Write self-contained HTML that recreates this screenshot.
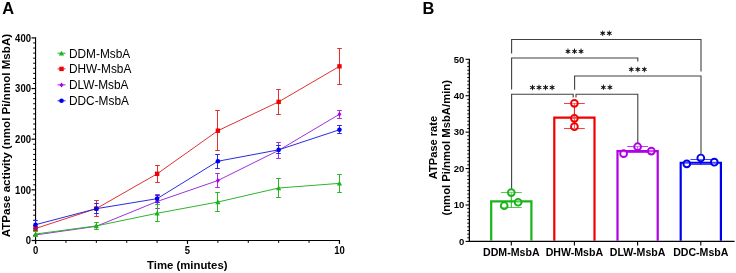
<!DOCTYPE html>
<html><head><meta charset="utf-8"><style>
html,body{margin:0;padding:0;background:#fff;}
body{width:736px;height:273px;overflow:hidden;font-family:"Liberation Sans", sans-serif;}
svg{display:block;will-change:transform;}
</style></head><body>
<svg width="736" height="273" viewBox="0 0 736 273" font-family='"Liberation Sans", sans-serif'><text x="2.2" y="14" font-size="16.4" font-weight="bold" fill="#000">A</text>
<line x1="35.55" y1="37.30000000000003" x2="35.55" y2="243.9" stroke="#000" stroke-width="1.15"/>
<line x1="31.549999999999997" y1="240.5" x2="35.55" y2="240.5" stroke="#000" stroke-width="1.2"/>
<text x="30.949999999999996" y="244.4" font-size="10" font-weight="bold" text-anchor="end" textLength="5.28" lengthAdjust="spacingAndGlyphs" fill="#000">0</text>
<line x1="33.15" y1="235.435" x2="35.55" y2="235.435" stroke="#000" stroke-width="1"/>
<line x1="33.15" y1="230.37" x2="35.55" y2="230.37" stroke="#000" stroke-width="1"/>
<line x1="33.15" y1="225.305" x2="35.55" y2="225.305" stroke="#000" stroke-width="1"/>
<line x1="33.15" y1="220.24" x2="35.55" y2="220.24" stroke="#000" stroke-width="1"/>
<line x1="33.15" y1="215.175" x2="35.55" y2="215.175" stroke="#000" stroke-width="1"/>
<line x1="33.15" y1="210.11" x2="35.55" y2="210.11" stroke="#000" stroke-width="1"/>
<line x1="33.15" y1="205.04500000000002" x2="35.55" y2="205.04500000000002" stroke="#000" stroke-width="1"/>
<line x1="33.15" y1="199.98000000000002" x2="35.55" y2="199.98000000000002" stroke="#000" stroke-width="1"/>
<line x1="33.15" y1="194.91500000000002" x2="35.55" y2="194.91500000000002" stroke="#000" stroke-width="1"/>
<line x1="31.549999999999997" y1="189.85000000000002" x2="35.55" y2="189.85000000000002" stroke="#000" stroke-width="1.2"/>
<text x="30.949999999999996" y="193.75000000000003" font-size="10" font-weight="bold" text-anchor="end" textLength="15.85" lengthAdjust="spacingAndGlyphs" fill="#000">100</text>
<line x1="33.15" y1="184.785" x2="35.55" y2="184.785" stroke="#000" stroke-width="1"/>
<line x1="33.15" y1="179.72" x2="35.55" y2="179.72" stroke="#000" stroke-width="1"/>
<line x1="33.15" y1="174.655" x2="35.55" y2="174.655" stroke="#000" stroke-width="1"/>
<line x1="33.15" y1="169.59" x2="35.55" y2="169.59" stroke="#000" stroke-width="1"/>
<line x1="33.15" y1="164.525" x2="35.55" y2="164.525" stroke="#000" stroke-width="1"/>
<line x1="33.15" y1="159.46" x2="35.55" y2="159.46" stroke="#000" stroke-width="1"/>
<line x1="33.15" y1="154.395" x2="35.55" y2="154.395" stroke="#000" stroke-width="1"/>
<line x1="33.15" y1="149.33" x2="35.55" y2="149.33" stroke="#000" stroke-width="1"/>
<line x1="33.15" y1="144.26500000000001" x2="35.55" y2="144.26500000000001" stroke="#000" stroke-width="1"/>
<line x1="31.549999999999997" y1="139.20000000000002" x2="35.55" y2="139.20000000000002" stroke="#000" stroke-width="1.2"/>
<text x="30.949999999999996" y="143.10000000000002" font-size="10" font-weight="bold" text-anchor="end" textLength="15.85" lengthAdjust="spacingAndGlyphs" fill="#000">200</text>
<line x1="33.15" y1="134.135" x2="35.55" y2="134.135" stroke="#000" stroke-width="1"/>
<line x1="33.15" y1="129.07" x2="35.55" y2="129.07" stroke="#000" stroke-width="1"/>
<line x1="33.15" y1="124.00500000000001" x2="35.55" y2="124.00500000000001" stroke="#000" stroke-width="1"/>
<line x1="33.15" y1="118.94000000000001" x2="35.55" y2="118.94000000000001" stroke="#000" stroke-width="1"/>
<line x1="33.15" y1="113.87500000000001" x2="35.55" y2="113.87500000000001" stroke="#000" stroke-width="1"/>
<line x1="33.15" y1="108.81" x2="35.55" y2="108.81" stroke="#000" stroke-width="1"/>
<line x1="33.15" y1="103.745" x2="35.55" y2="103.745" stroke="#000" stroke-width="1"/>
<line x1="33.15" y1="98.68" x2="35.55" y2="98.68" stroke="#000" stroke-width="1"/>
<line x1="33.15" y1="93.61500000000001" x2="35.55" y2="93.61500000000001" stroke="#000" stroke-width="1"/>
<line x1="31.549999999999997" y1="88.55000000000001" x2="35.55" y2="88.55000000000001" stroke="#000" stroke-width="1.2"/>
<text x="30.949999999999996" y="92.45000000000002" font-size="10" font-weight="bold" text-anchor="end" textLength="15.85" lengthAdjust="spacingAndGlyphs" fill="#000">300</text>
<line x1="33.15" y1="83.48500000000001" x2="35.55" y2="83.48500000000001" stroke="#000" stroke-width="1"/>
<line x1="33.15" y1="78.42000000000002" x2="35.55" y2="78.42000000000002" stroke="#000" stroke-width="1"/>
<line x1="33.15" y1="73.35500000000002" x2="35.55" y2="73.35500000000002" stroke="#000" stroke-width="1"/>
<line x1="33.15" y1="68.29000000000002" x2="35.55" y2="68.29000000000002" stroke="#000" stroke-width="1"/>
<line x1="33.15" y1="63.22500000000002" x2="35.55" y2="63.22500000000002" stroke="#000" stroke-width="1"/>
<line x1="33.15" y1="58.160000000000025" x2="35.55" y2="58.160000000000025" stroke="#000" stroke-width="1"/>
<line x1="33.15" y1="53.09500000000003" x2="35.55" y2="53.09500000000003" stroke="#000" stroke-width="1"/>
<line x1="33.15" y1="48.03000000000003" x2="35.55" y2="48.03000000000003" stroke="#000" stroke-width="1"/>
<line x1="33.15" y1="42.96500000000003" x2="35.55" y2="42.96500000000003" stroke="#000" stroke-width="1"/>
<line x1="31.549999999999997" y1="37.900000000000034" x2="35.55" y2="37.900000000000034" stroke="#000" stroke-width="1.2"/>
<text x="30.949999999999996" y="41.80000000000003" font-size="10" font-weight="bold" text-anchor="end" textLength="15.85" lengthAdjust="spacingAndGlyphs" fill="#000">400</text>
<line x1="34.949999999999996" y1="240.5" x2="340.05" y2="240.5" stroke="#000" stroke-width="1.2"/>
<line x1="35.55" y1="240.5" x2="35.55" y2="243.9" stroke="#000" stroke-width="1.2"/>
<text x="35.55" y="253.6" font-size="10" font-weight="bold" text-anchor="middle" textLength="5.28" lengthAdjust="spacingAndGlyphs" fill="#000">0</text>
<line x1="65.94" y1="240.5" x2="65.94" y2="242.9" stroke="#000" stroke-width="1"/>
<line x1="96.32999999999998" y1="240.5" x2="96.32999999999998" y2="242.9" stroke="#000" stroke-width="1"/>
<line x1="126.71999999999998" y1="240.5" x2="126.71999999999998" y2="242.9" stroke="#000" stroke-width="1"/>
<line x1="157.10999999999999" y1="240.5" x2="157.10999999999999" y2="242.9" stroke="#000" stroke-width="1"/>
<line x1="187.5" y1="240.5" x2="187.5" y2="243.9" stroke="#000" stroke-width="1.2"/>
<text x="187.5" y="253.6" font-size="10" font-weight="bold" text-anchor="middle" textLength="5.28" lengthAdjust="spacingAndGlyphs" fill="#000">5</text>
<line x1="217.89" y1="240.5" x2="217.89" y2="242.9" stroke="#000" stroke-width="1"/>
<line x1="248.27999999999997" y1="240.5" x2="248.27999999999997" y2="242.9" stroke="#000" stroke-width="1"/>
<line x1="278.66999999999996" y1="240.5" x2="278.66999999999996" y2="242.9" stroke="#000" stroke-width="1"/>
<line x1="309.06" y1="240.5" x2="309.06" y2="242.9" stroke="#000" stroke-width="1"/>
<line x1="339.45" y1="240.5" x2="339.45" y2="243.9" stroke="#000" stroke-width="1.2"/>
<text x="339.45" y="253.6" font-size="10" font-weight="bold" text-anchor="middle" textLength="10.56" lengthAdjust="spacingAndGlyphs" fill="#000">10</text>
<text x="187.3" y="268.6" font-size="11.35" font-weight="bold" text-anchor="middle" fill="#000">Time (minutes)</text>
<text transform="translate(10.3,135.55) rotate(-90)" x="0" y="0" font-size="11.6" font-weight="bold" text-anchor="middle" fill="#000">ATPase activity (nmol Pi/nmol MsbA)</text>
<polyline points="35.55,234.93 96.33,226.32 157.11,201.50 217.89,180.53 278.67,150.34 339.45,114.28" fill="none" stroke="#a030d8" stroke-width="1"/>
<path d="M157.50,194.50 V208.50 M155.20,194.50 H159.80 M155.20,208.50 H159.80" stroke="#a030d8" stroke-width="1" fill="none"/>
<path d="M217.50,173.50 V187.50 M215.20,173.50 H219.80 M215.20,187.50 H219.80" stroke="#a030d8" stroke-width="1" fill="none"/>
<path d="M278.50,142.50 V158.50 M276.20,142.50 H280.80 M276.20,158.50 H280.80" stroke="#a030d8" stroke-width="1" fill="none"/>
<path d="M339.50,110.50 V118.50 M337.20,110.50 H341.80 M337.20,118.50 H341.80" stroke="#a030d8" stroke-width="1" fill="none"/>
<path d="M35.55,232.43 L37.55,234.93 L35.55,237.43 L33.55,234.93Z" fill="#b000e4"/>
<path d="M96.33,223.82 L98.33,226.32 L96.33,228.82 L94.33,226.32Z" fill="#b000e4"/>
<path d="M157.11,199.00 L159.11,201.50 L157.11,204.00 L155.11,201.50Z" fill="#b000e4"/>
<path d="M217.89,178.03 L219.89,180.53 L217.89,183.03 L215.89,180.53Z" fill="#b000e4"/>
<path d="M278.67,147.84 L280.67,150.34 L278.67,152.84 L276.67,150.34Z" fill="#b000e4"/>
<path d="M339.45,111.78 L341.45,114.28 L339.45,116.78 L337.45,114.28Z" fill="#b000e4"/>
<polyline points="35.55,234.02 96.33,225.91 157.11,213.30 217.89,202.01 278.67,188.03 339.45,183.37" fill="none" stroke="#2cb52c" stroke-width="1"/>
<path d="M35.50,231.50 V236.50 M33.20,231.50 H37.80 M33.20,236.50 H37.80" stroke="#2cb52c" stroke-width="1" fill="none"/>
<path d="M96.50,222.50 V229.50 M94.20,222.50 H98.80 M94.20,229.50 H98.80" stroke="#2cb52c" stroke-width="1" fill="none"/>
<path d="M157.50,204.50 V221.50 M155.20,204.50 H159.80 M155.20,221.50 H159.80" stroke="#2cb52c" stroke-width="1" fill="none"/>
<path d="M217.50,192.50 V211.50 M215.20,192.50 H219.80 M215.20,211.50 H219.80" stroke="#2cb52c" stroke-width="1" fill="none"/>
<path d="M278.50,178.50 V197.50 M276.20,178.50 H280.80 M276.20,197.50 H280.80" stroke="#2cb52c" stroke-width="1" fill="none"/>
<path d="M339.50,174.50 V192.50 M337.20,174.50 H341.80 M337.20,192.50 H341.80" stroke="#2cb52c" stroke-width="1" fill="none"/>
<path d="M35.55,231.52 L38.17,236.27 L32.92,236.27Z" fill="#18b418"/>
<path d="M96.33,223.41 L98.95,228.16 L93.70,228.16Z" fill="#18b418"/>
<path d="M157.11,210.80 L159.73,215.55 L154.48,215.55Z" fill="#18b418"/>
<path d="M217.89,199.51 L220.51,204.26 L215.26,204.26Z" fill="#18b418"/>
<path d="M278.67,185.53 L281.29,190.28 L276.04,190.28Z" fill="#18b418"/>
<path d="M339.45,180.87 L342.07,185.62 L336.82,185.62Z" fill="#18b418"/>
<polyline points="35.55,228.50 96.33,208.59 157.11,173.84 217.89,130.69 278.67,101.87 339.45,66.37" fill="none" stroke="#e03030" stroke-width="1"/>
<path d="M35.50,226.50 V230.50 M33.20,226.50 H37.80 M33.20,230.50 H37.80" stroke="#e03030" stroke-width="1" fill="none"/>
<path d="M96.50,200.50 V216.50 M94.20,200.50 H98.80 M94.20,216.50 H98.80" stroke="#e03030" stroke-width="1" fill="none"/>
<path d="M157.50,165.50 V182.50 M155.20,165.50 H159.80 M155.20,182.50 H159.80" stroke="#e03030" stroke-width="1" fill="none"/>
<path d="M217.50,110.50 V150.50 M215.20,110.50 H219.80 M215.20,150.50 H219.80" stroke="#e03030" stroke-width="1" fill="none"/>
<path d="M278.50,89.50 V114.50 M276.20,89.50 H280.80 M276.20,114.50 H280.80" stroke="#e03030" stroke-width="1" fill="none"/>
<path d="M339.50,48.50 V84.50 M337.20,48.50 H341.80 M337.20,84.50 H341.80" stroke="#e03030" stroke-width="1" fill="none"/>
<rect x="33.35" y="226.30" width="4.40" height="4.40" fill="#f00000"/>
<rect x="94.13" y="206.39" width="4.40" height="4.40" fill="#f00000"/>
<rect x="154.91" y="171.64" width="4.40" height="4.40" fill="#f00000"/>
<rect x="215.69" y="128.49" width="4.40" height="4.40" fill="#f00000"/>
<rect x="276.47" y="99.67" width="4.40" height="4.40" fill="#f00000"/>
<rect x="337.25" y="64.17" width="4.40" height="4.40" fill="#f00000"/>
<polyline points="35.55,224.70 96.33,208.69 157.11,198.66 217.89,161.23 278.67,149.84 339.45,129.78" fill="none" stroke="#2a2ae0" stroke-width="1"/>
<path d="M35.50,220.50 V228.50 M33.20,220.50 H37.80 M33.20,228.50 H37.80" stroke="#2a2ae0" stroke-width="1" fill="none"/>
<path d="M96.50,203.50 V213.50 M94.20,203.50 H98.80 M94.20,213.50 H98.80" stroke="#2a2ae0" stroke-width="1" fill="none"/>
<path d="M157.50,195.50 V202.50 M155.20,195.50 H159.80 M155.20,202.50 H159.80" stroke="#2a2ae0" stroke-width="1" fill="none"/>
<path d="M217.50,154.50 V168.50 M215.20,154.50 H219.80 M215.20,168.50 H219.80" stroke="#2a2ae0" stroke-width="1" fill="none"/>
<path d="M278.50,145.50 V153.50 M276.20,145.50 H280.80 M276.20,153.50 H280.80" stroke="#2a2ae0" stroke-width="1" fill="none"/>
<path d="M339.50,125.50 V133.50 M337.20,125.50 H341.80 M337.20,133.50 H341.80" stroke="#2a2ae0" stroke-width="1" fill="none"/>
<circle cx="35.55" cy="224.70" r="2.30" fill="#0000f0"/>
<circle cx="96.33" cy="208.69" r="2.30" fill="#0000f0"/>
<circle cx="157.11" cy="198.66" r="2.30" fill="#0000f0"/>
<circle cx="217.89" cy="161.23" r="2.30" fill="#0000f0"/>
<circle cx="278.67" cy="149.84" r="2.30" fill="#0000f0"/>
<circle cx="339.45" cy="129.78" r="2.30" fill="#0000f0"/>
<line x1="57.5" y1="53.2" x2="65.5" y2="53.2" stroke="#2cb52c" stroke-width="1"/>
<path d="M61.50,50.70 L64.12,55.45 L58.88,55.45Z" fill="#18b418"/>
<text x="69.0" y="57.5" font-size="11.85" fill="#000">DDM-MsbA</text>
<line x1="57.5" y1="68.9" x2="65.5" y2="68.9" stroke="#e03030" stroke-width="1"/>
<rect x="59.30" y="66.70" width="4.40" height="4.40" fill="#f00000"/>
<text x="69.0" y="73.2" font-size="11.85" fill="#000">DHW-MsbA</text>
<line x1="57.5" y1="84.9" x2="65.5" y2="84.9" stroke="#a030d8" stroke-width="1"/>
<path d="M61.50,82.40 L63.50,84.90 L61.50,87.40 L59.50,84.90Z" fill="#b000e4"/>
<text x="69.0" y="89.2" font-size="11.85" fill="#000">DLW-MsbA</text>
<line x1="57.5" y1="100.8" x2="65.5" y2="100.8" stroke="#2a2ae0" stroke-width="1"/>
<circle cx="61.50" cy="100.80" r="2.30" fill="#0000f0"/>
<text x="69.0" y="105.1" font-size="11.85" fill="#000">DDC-MsbA</text>
<text x="422.6" y="14" font-size="16.4" font-weight="bold" fill="#000">B</text>
<line x1="469.35" y1="58.69999999999998" x2="469.35" y2="241.4" stroke="#000" stroke-width="1.25"/>
<line x1="465.55" y1="241.4" x2="469.35" y2="241.4" stroke="#000" stroke-width="1.1"/>
<text x="464.25" y="244.75" font-size="9.5" font-weight="bold" text-anchor="end" fill="#000">0</text>
<line x1="467.15000000000003" y1="237.758" x2="469.35" y2="237.758" stroke="#000" stroke-width="0.9"/>
<line x1="467.15000000000003" y1="234.116" x2="469.35" y2="234.116" stroke="#000" stroke-width="0.9"/>
<line x1="467.15000000000003" y1="230.474" x2="469.35" y2="230.474" stroke="#000" stroke-width="0.9"/>
<line x1="467.15000000000003" y1="226.832" x2="469.35" y2="226.832" stroke="#000" stroke-width="0.9"/>
<line x1="467.15000000000003" y1="223.19" x2="469.35" y2="223.19" stroke="#000" stroke-width="0.9"/>
<line x1="467.15000000000003" y1="219.548" x2="469.35" y2="219.548" stroke="#000" stroke-width="0.9"/>
<line x1="467.15000000000003" y1="215.906" x2="469.35" y2="215.906" stroke="#000" stroke-width="0.9"/>
<line x1="467.15000000000003" y1="212.264" x2="469.35" y2="212.264" stroke="#000" stroke-width="0.9"/>
<line x1="467.15000000000003" y1="208.622" x2="469.35" y2="208.622" stroke="#000" stroke-width="0.9"/>
<line x1="465.55" y1="204.98000000000002" x2="469.35" y2="204.98000000000002" stroke="#000" stroke-width="1.1"/>
<text x="464.25" y="208.33" font-size="9.5" font-weight="bold" text-anchor="end" fill="#000">10</text>
<line x1="467.15000000000003" y1="201.338" x2="469.35" y2="201.338" stroke="#000" stroke-width="0.9"/>
<line x1="467.15000000000003" y1="197.696" x2="469.35" y2="197.696" stroke="#000" stroke-width="0.9"/>
<line x1="467.15000000000003" y1="194.054" x2="469.35" y2="194.054" stroke="#000" stroke-width="0.9"/>
<line x1="467.15000000000003" y1="190.412" x2="469.35" y2="190.412" stroke="#000" stroke-width="0.9"/>
<line x1="467.15000000000003" y1="186.77" x2="469.35" y2="186.77" stroke="#000" stroke-width="0.9"/>
<line x1="467.15000000000003" y1="183.128" x2="469.35" y2="183.128" stroke="#000" stroke-width="0.9"/>
<line x1="467.15000000000003" y1="179.486" x2="469.35" y2="179.486" stroke="#000" stroke-width="0.9"/>
<line x1="467.15000000000003" y1="175.844" x2="469.35" y2="175.844" stroke="#000" stroke-width="0.9"/>
<line x1="467.15000000000003" y1="172.202" x2="469.35" y2="172.202" stroke="#000" stroke-width="0.9"/>
<line x1="465.55" y1="168.56" x2="469.35" y2="168.56" stroke="#000" stroke-width="1.1"/>
<text x="464.25" y="171.91" font-size="9.5" font-weight="bold" text-anchor="end" fill="#000">20</text>
<line x1="467.15000000000003" y1="164.918" x2="469.35" y2="164.918" stroke="#000" stroke-width="0.9"/>
<line x1="467.15000000000003" y1="161.276" x2="469.35" y2="161.276" stroke="#000" stroke-width="0.9"/>
<line x1="467.15000000000003" y1="157.63400000000001" x2="469.35" y2="157.63400000000001" stroke="#000" stroke-width="0.9"/>
<line x1="467.15000000000003" y1="153.992" x2="469.35" y2="153.992" stroke="#000" stroke-width="0.9"/>
<line x1="467.15000000000003" y1="150.35" x2="469.35" y2="150.35" stroke="#000" stroke-width="0.9"/>
<line x1="467.15000000000003" y1="146.708" x2="469.35" y2="146.708" stroke="#000" stroke-width="0.9"/>
<line x1="467.15000000000003" y1="143.066" x2="469.35" y2="143.066" stroke="#000" stroke-width="0.9"/>
<line x1="467.15000000000003" y1="139.42399999999998" x2="469.35" y2="139.42399999999998" stroke="#000" stroke-width="0.9"/>
<line x1="467.15000000000003" y1="135.78199999999998" x2="469.35" y2="135.78199999999998" stroke="#000" stroke-width="0.9"/>
<line x1="465.55" y1="132.14" x2="469.35" y2="132.14" stroke="#000" stroke-width="1.1"/>
<text x="464.25" y="135.48999999999998" font-size="9.5" font-weight="bold" text-anchor="end" fill="#000">30</text>
<line x1="467.15000000000003" y1="128.498" x2="469.35" y2="128.498" stroke="#000" stroke-width="0.9"/>
<line x1="467.15000000000003" y1="124.856" x2="469.35" y2="124.856" stroke="#000" stroke-width="0.9"/>
<line x1="467.15000000000003" y1="121.214" x2="469.35" y2="121.214" stroke="#000" stroke-width="0.9"/>
<line x1="467.15000000000003" y1="117.57199999999999" x2="469.35" y2="117.57199999999999" stroke="#000" stroke-width="0.9"/>
<line x1="467.15000000000003" y1="113.92999999999999" x2="469.35" y2="113.92999999999999" stroke="#000" stroke-width="0.9"/>
<line x1="467.15000000000003" y1="110.28799999999998" x2="469.35" y2="110.28799999999998" stroke="#000" stroke-width="0.9"/>
<line x1="467.15000000000003" y1="106.64599999999999" x2="469.35" y2="106.64599999999999" stroke="#000" stroke-width="0.9"/>
<line x1="467.15000000000003" y1="103.00399999999999" x2="469.35" y2="103.00399999999999" stroke="#000" stroke-width="0.9"/>
<line x1="467.15000000000003" y1="99.362" x2="469.35" y2="99.362" stroke="#000" stroke-width="0.9"/>
<line x1="465.55" y1="95.72" x2="469.35" y2="95.72" stroke="#000" stroke-width="1.1"/>
<text x="464.25" y="99.07" font-size="9.5" font-weight="bold" text-anchor="end" fill="#000">40</text>
<line x1="467.15000000000003" y1="92.078" x2="469.35" y2="92.078" stroke="#000" stroke-width="0.9"/>
<line x1="467.15000000000003" y1="88.43599999999998" x2="469.35" y2="88.43599999999998" stroke="#000" stroke-width="0.9"/>
<line x1="467.15000000000003" y1="84.79399999999998" x2="469.35" y2="84.79399999999998" stroke="#000" stroke-width="0.9"/>
<line x1="467.15000000000003" y1="81.15199999999999" x2="469.35" y2="81.15199999999999" stroke="#000" stroke-width="0.9"/>
<line x1="467.15000000000003" y1="77.50999999999999" x2="469.35" y2="77.50999999999999" stroke="#000" stroke-width="0.9"/>
<line x1="467.15000000000003" y1="73.868" x2="469.35" y2="73.868" stroke="#000" stroke-width="0.9"/>
<line x1="467.15000000000003" y1="70.226" x2="469.35" y2="70.226" stroke="#000" stroke-width="0.9"/>
<line x1="467.15000000000003" y1="66.58399999999997" x2="469.35" y2="66.58399999999997" stroke="#000" stroke-width="0.9"/>
<line x1="467.15000000000003" y1="62.94199999999998" x2="469.35" y2="62.94199999999998" stroke="#000" stroke-width="0.9"/>
<line x1="465.55" y1="59.29999999999998" x2="469.35" y2="59.29999999999998" stroke="#000" stroke-width="1.1"/>
<text x="464.25" y="62.649999999999984" font-size="9.5" font-weight="bold" text-anchor="end" fill="#000">50</text>
<line x1="468.65000000000003" y1="241.4" x2="734.6" y2="241.4" stroke="#000" stroke-width="1.3"/>
<line x1="511.3" y1="241.4" x2="511.3" y2="245.4" stroke="#000" stroke-width="1.1"/>
<text x="511.3" y="255.6" font-size="10.6" font-weight="bold" text-anchor="middle" fill="#000">DDM-MsbA</text>
<line x1="574.4" y1="241.4" x2="574.4" y2="245.4" stroke="#000" stroke-width="1.1"/>
<text x="574.4" y="255.6" font-size="10.6" font-weight="bold" text-anchor="middle" fill="#000">DHW-MsbA</text>
<line x1="637.6" y1="241.4" x2="637.6" y2="245.4" stroke="#000" stroke-width="1.1"/>
<text x="637.6" y="255.6" font-size="10.6" font-weight="bold" text-anchor="middle" fill="#000">DLW-MsbA</text>
<line x1="700.8" y1="241.4" x2="700.8" y2="245.4" stroke="#000" stroke-width="1.1"/>
<text x="700.8" y="255.6" font-size="10.6" font-weight="bold" text-anchor="middle" fill="#000">DDC-MsbA</text>
<text transform="translate(437.3,147.5) rotate(-90)" font-size="11.1" font-weight="bold" text-anchor="middle" fill="#000">ATPase rate</text>
<text transform="translate(449.8,147.8) rotate(-90)" font-size="11.3" font-weight="bold" text-anchor="middle" fill="#000">(nmol Pi/nmol MsbA/min)</text>
<path d="M491.20,240.80 V201.34 H531.40 V240.80" fill="none" stroke="#18b418" stroke-width="2.2"/>
<path d="M554.30,240.80 V117.57 H594.50 V240.80" fill="none" stroke="#f00000" stroke-width="2.2"/>
<path d="M617.50,240.80 V151.08 H657.70 V240.80" fill="none" stroke="#b000e4" stroke-width="2.2"/>
<path d="M680.70,240.80 V162.73 H720.90 V240.80" fill="none" stroke="#0000f0" stroke-width="2.2"/>
<path d="M511.30,192.50 V207.50" stroke="#18b418" stroke-width="1" fill="none"/>
<path d="M500.90,192.50 H521.70 M500.90,207.50 H521.70" stroke="#18b418" stroke-width="1.15" stroke-opacity="0.75" fill="none"/>
<circle cx="511.30" cy="192.60" r="3.4" fill="#fff" fill-opacity="0.3" stroke="#18b418" stroke-width="1.9"/>
<circle cx="504.20" cy="205.71" r="3.4" fill="#fff" fill-opacity="0.3" stroke="#18b418" stroke-width="1.9"/>
<circle cx="518.10" cy="202.25" r="3.4" fill="#fff" fill-opacity="0.3" stroke="#18b418" stroke-width="1.9"/>
<path d="M574.40,103.50 V128.50" stroke="#f00000" stroke-width="1" fill="none"/>
<path d="M564.00,103.50 H584.80 M564.00,128.50 H584.80" stroke="#f00000" stroke-width="1.15" stroke-opacity="0.75" fill="none"/>
<circle cx="574.40" cy="103.37" r="3.4" fill="#fff" fill-opacity="0.3" stroke="#f00000" stroke-width="1.9"/>
<circle cx="574.40" cy="118.30" r="3.4" fill="#fff" fill-opacity="0.3" stroke="#f00000" stroke-width="1.9"/>
<circle cx="574.40" cy="126.68" r="3.4" fill="#fff" fill-opacity="0.3" stroke="#f00000" stroke-width="1.9"/>
<path d="M637.60,146.50 V152.50" stroke="#b000e4" stroke-width="1" fill="none"/>
<path d="M627.20,146.50 H648.00 M627.20,152.50 H648.00" stroke="#b000e4" stroke-width="1.15" stroke-opacity="0.75" fill="none"/>
<circle cx="637.60" cy="146.71" r="3.4" fill="#fff" fill-opacity="0.3" stroke="#b000e4" stroke-width="1.9"/>
<circle cx="623.60" cy="153.63" r="3.4" fill="#fff" fill-opacity="0.3" stroke="#b000e4" stroke-width="1.9"/>
<circle cx="651.30" cy="151.08" r="3.4" fill="#fff" fill-opacity="0.3" stroke="#b000e4" stroke-width="1.9"/>
<path d="M700.80,159.50 V164.50" stroke="#0000f0" stroke-width="1" fill="none"/>
<path d="M690.40,159.50 H711.20 M690.40,164.50 H711.20" stroke="#0000f0" stroke-width="1.15" stroke-opacity="0.75" fill="none"/>
<circle cx="700.80" cy="158.00" r="3.4" fill="#fff" fill-opacity="0.3" stroke="#0000f0" stroke-width="1.9"/>
<circle cx="686.80" cy="163.83" r="3.4" fill="#fff" fill-opacity="0.3" stroke="#0000f0" stroke-width="1.9"/>
<circle cx="714.30" cy="162.19" r="3.4" fill="#fff" fill-opacity="0.3" stroke="#0000f0" stroke-width="1.9"/>
<path d="M511.6,53.5 V39.5 H701.0 V71.5" fill="none" stroke="#404040" stroke-width="1.1"/>
<path d="M511.6,89.6 V58.0 H637.8 V61.6" fill="none" stroke="#404040" stroke-width="1.1"/>
<path d="M574.5999999999999,89.7 V76.0 H701.0 V154.7" fill="none" stroke="#404040" stroke-width="1.1"/>
<path d="M511.6,188.4 V94.2 H573.1999999999999 V97.6" fill="none" stroke="#404040" stroke-width="1.1"/>
<path d="M576.0,97.6 V94.2 H637.8 V142.8" fill="none" stroke="#404040" stroke-width="1.1"/>
<path d="M603.35,33.30L603.11,30.55L602.35,30.55L602.11,33.30ZM603.03,32.76L600.53,31.60L600.15,32.25L602.42,33.84ZM602.42,32.76L600.15,34.35L600.53,35.00L603.03,33.84ZM602.11,33.30L602.35,36.05L603.11,36.05L603.35,33.30ZM602.42,33.84L604.92,35.00L605.30,34.35L603.03,32.76ZM603.03,33.84L605.30,32.25L604.92,31.60L602.42,32.76ZM601.73,33.30a1.0,1.0 0 1,0 2.0,0a1.0,1.0 0 1,0 -2.0,0ZM609.89,33.30L609.65,30.55L608.89,30.55L608.65,33.30ZM609.58,32.76L607.08,31.60L606.70,32.25L608.97,33.84ZM608.97,32.76L606.70,34.35L607.08,35.00L609.58,33.84ZM608.65,33.30L608.89,36.05L609.65,36.05L609.89,33.30ZM608.97,33.84L611.47,35.00L611.85,34.35L609.58,32.76ZM609.58,33.84L611.85,32.25L611.47,31.60L608.97,32.76ZM608.27,33.30a1.0,1.0 0 1,0 2.0,0a1.0,1.0 0 1,0 -2.0,0Z" fill="#111" stroke="none"/>
<path d="M568.57,51.35L568.33,48.60L567.57,48.60L567.33,51.35ZM568.26,50.81L565.76,49.65L565.38,50.30L567.64,51.89ZM567.64,50.81L565.38,52.40L565.76,53.05L568.26,51.89ZM567.33,51.35L567.57,54.10L568.33,54.10L568.57,51.35ZM567.64,51.89L570.14,53.05L570.52,52.40L568.26,50.81ZM568.26,51.89L570.52,50.30L570.14,49.65L567.64,50.81ZM566.95,51.35a1.0,1.0 0 1,0 2.0,0a1.0,1.0 0 1,0 -2.0,0ZM575.12,51.35L574.88,48.60L574.12,48.60L573.88,51.35ZM574.81,50.81L572.31,49.65L571.93,50.30L574.19,51.89ZM574.19,50.81L571.93,52.40L572.31,53.05L574.81,51.89ZM573.88,51.35L574.12,54.10L574.88,54.10L575.12,51.35ZM574.19,51.89L576.69,53.05L577.07,52.40L574.81,50.81ZM574.81,51.89L577.07,50.30L576.69,49.65L574.19,50.81ZM573.50,51.35a1.0,1.0 0 1,0 2.0,0a1.0,1.0 0 1,0 -2.0,0ZM581.67,51.35L581.43,48.60L580.67,48.60L580.43,51.35ZM581.36,50.81L578.86,49.65L578.48,50.30L580.74,51.89ZM580.74,50.81L578.48,52.40L578.86,53.05L581.36,51.89ZM580.43,51.35L580.67,54.10L581.43,54.10L581.67,51.35ZM580.74,51.89L583.24,53.05L583.62,52.40L581.36,50.81ZM581.36,51.89L583.62,50.30L583.24,49.65L580.74,50.81ZM580.05,51.35a1.0,1.0 0 1,0 2.0,0a1.0,1.0 0 1,0 -2.0,0Z" fill="#111" stroke="none"/>
<path d="M631.87,69.40L631.63,66.65L630.87,66.65L630.63,69.40ZM631.56,68.86L629.06,67.70L628.68,68.35L630.94,69.94ZM630.94,68.86L628.68,70.45L629.06,71.10L631.56,69.94ZM630.63,69.40L630.87,72.15L631.63,72.15L631.87,69.40ZM630.94,69.94L633.44,71.10L633.82,70.45L631.56,68.86ZM631.56,69.94L633.82,68.35L633.44,67.70L630.94,68.86ZM630.25,69.40a1.0,1.0 0 1,0 2.0,0a1.0,1.0 0 1,0 -2.0,0ZM638.42,69.40L638.18,66.65L637.42,66.65L637.18,69.40ZM638.11,68.86L635.61,67.70L635.23,68.35L637.49,69.94ZM637.49,68.86L635.23,70.45L635.61,71.10L638.11,69.94ZM637.18,69.40L637.42,72.15L638.18,72.15L638.42,69.40ZM637.49,69.94L639.99,71.10L640.37,70.45L638.11,68.86ZM638.11,69.94L640.37,68.35L639.99,67.70L637.49,68.86ZM636.80,69.40a1.0,1.0 0 1,0 2.0,0a1.0,1.0 0 1,0 -2.0,0ZM644.97,69.40L644.73,66.65L643.97,66.65L643.73,69.40ZM644.66,68.86L642.16,67.70L641.78,68.35L644.04,69.94ZM644.04,68.86L641.78,70.45L642.16,71.10L644.66,69.94ZM643.73,69.40L643.97,72.15L644.73,72.15L644.97,69.40ZM644.04,69.94L646.54,71.10L646.92,70.45L644.66,68.86ZM644.66,69.94L646.92,68.35L646.54,67.70L644.04,68.86ZM643.35,69.40a1.0,1.0 0 1,0 2.0,0a1.0,1.0 0 1,0 -2.0,0Z" fill="#111" stroke="none"/>
<path d="M533.09,87.45L532.85,84.70L532.09,84.70L531.85,87.45ZM532.78,86.91L530.28,85.75L529.90,86.40L532.16,87.99ZM532.16,86.91L529.90,88.50L530.28,89.15L532.78,87.99ZM531.85,87.45L532.09,90.20L532.85,90.20L533.09,87.45ZM532.16,87.99L534.67,89.15L535.05,88.50L532.78,86.91ZM532.78,87.99L535.05,86.40L534.67,85.75L532.16,86.91ZM531.47,87.45a1.0,1.0 0 1,0 2.0,0a1.0,1.0 0 1,0 -2.0,0ZM539.64,87.45L539.40,84.70L538.64,84.70L538.40,87.45ZM539.33,86.91L536.83,85.75L536.45,86.40L538.71,87.99ZM538.71,86.91L536.45,88.50L536.83,89.15L539.33,87.99ZM538.40,87.45L538.64,90.20L539.40,90.20L539.64,87.45ZM538.71,87.99L541.22,89.15L541.60,88.50L539.33,86.91ZM539.33,87.99L541.60,86.40L541.22,85.75L538.71,86.91ZM538.02,87.45a1.0,1.0 0 1,0 2.0,0a1.0,1.0 0 1,0 -2.0,0ZM546.19,87.45L545.95,84.70L545.19,84.70L544.95,87.45ZM545.88,86.91L543.38,85.75L543.00,86.40L545.26,87.99ZM545.26,86.91L543.00,88.50L543.38,89.15L545.88,87.99ZM544.95,87.45L545.19,90.20L545.95,90.20L546.19,87.45ZM545.26,87.99L547.77,89.15L548.15,88.50L545.88,86.91ZM545.88,87.99L548.15,86.40L547.77,85.75L545.26,86.91ZM544.57,87.45a1.0,1.0 0 1,0 2.0,0a1.0,1.0 0 1,0 -2.0,0ZM552.74,87.45L552.50,84.70L551.74,84.70L551.50,87.45ZM552.43,86.91L549.93,85.75L549.55,86.40L551.81,87.99ZM551.81,86.91L549.55,88.50L549.93,89.15L552.43,87.99ZM551.50,87.45L551.74,90.20L552.50,90.20L552.74,87.45ZM551.81,87.99L554.32,89.15L554.70,88.50L552.43,86.91ZM552.43,87.99L554.70,86.40L554.32,85.75L551.81,86.91ZM551.12,87.45a1.0,1.0 0 1,0 2.0,0a1.0,1.0 0 1,0 -2.0,0Z" fill="#111" stroke="none"/>
<path d="M604.00,87.35L603.75,84.60L603.00,84.60L602.75,87.35ZM603.68,86.81L601.18,85.65L600.80,86.30L603.07,87.89ZM603.07,86.81L600.80,88.40L601.18,89.05L603.68,87.89ZM602.75,87.35L603.00,90.10L603.75,90.10L604.00,87.35ZM603.07,87.89L605.57,89.05L605.95,88.40L603.68,86.81ZM603.68,87.89L605.95,86.30L605.57,85.65L603.07,86.81ZM602.38,87.35a1.0,1.0 0 1,0 2.0,0a1.0,1.0 0 1,0 -2.0,0ZM610.54,87.35L610.30,84.60L609.54,84.60L609.30,87.35ZM610.23,86.81L607.73,85.65L607.35,86.30L609.62,87.89ZM609.62,86.81L607.35,88.40L607.73,89.05L610.23,87.89ZM609.30,87.35L609.54,90.10L610.30,90.10L610.54,87.35ZM609.62,87.89L612.12,89.05L612.50,88.40L610.23,86.81ZM610.23,87.89L612.50,86.30L612.12,85.65L609.62,86.81ZM608.92,87.35a1.0,1.0 0 1,0 2.0,0a1.0,1.0 0 1,0 -2.0,0Z" fill="#111" stroke="none"/></svg>
</body></html>
